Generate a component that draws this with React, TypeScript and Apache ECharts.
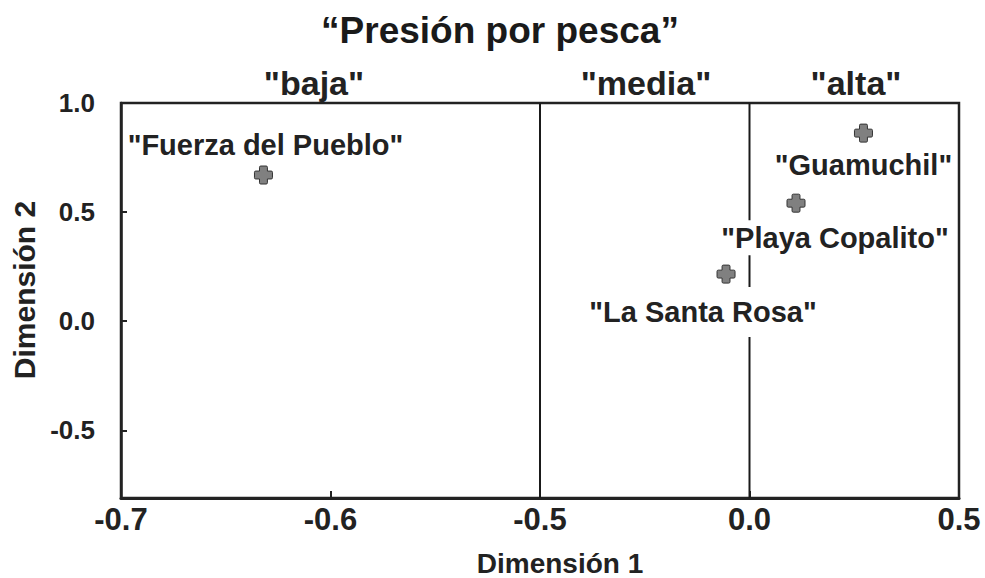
import React, { useEffect, useRef } from "react";
import * as echarts from "echarts";

// ---- data ----
const siteNames = ['"Fuerza del Pueblo"', '"Guamuchil"', '"Playa Copalito"', '"La Santa Rosa"'];
const dim1Values = [-0.632, 0.272, 0.111, -0.056];
const dim2Values = [0.67, 0.862, 0.541, 0.216];
const xTickValues = [-0.7, -0.6, -0.5, 0.0, 0.5];
const yTickValues = [1.0, 0.5, 0.0, -0.5];
const dividerValues = [-0.5, 0.0];
const pressureLabels = ['"baja"', '"media"', '"alta"'];
const titleText = "\u201CPresión por pesca\u201D";
const xAxisName = "Dimensión 1";
const yAxisName = "Dimensión 2";

// label layout (offset from the marker, padding of the white box)
const labelLayout = [
  { offset: [2, -30], padding: [2, 2, 2, 2] },
  { offset: [0, 32], padding: [2, 2, 2, 2] },
  { offset: [39, 34.5], padding: [6, 2, 1, 2] },
  { offset: [-23, 38], padding: [6, 2, 16, 2] },
];
const pressureLabelX = [314, 646, 856];

const Y_MIN = -0.81;
const Y_MAX = 1.0;
const FONT = "'Liberation Sans', Arial, Helvetica, sans-serif";
const INK = "#222";

// the Dimension 1 axis is piecewise linear between its tick labels
function tx(v: number): number {
  for (let i = 0; i < xTickValues.length - 1; i++) {
    const a = xTickValues[i];
    const b = xTickValues[i + 1];
    if (v <= b || i === xTickValues.length - 2) {
      return i + (v - a) / (b - a);
    }
  }
  return 0;
}

const plusPath =
  "path://M3.5,0 H6.5 Q7.2,0 7.2,0.7 V2.8 H9.3 Q10,2.8 10,3.5 V6.5 Q10,7.2 9.3,7.2 H7.2 V9.3 Q7.2,10 6.5,10 H3.5 Q2.8,10 2.8,9.3 V7.2 H0.7 Q0,7.2 0,6.5 V3.5 Q0,2.8 0.7,2.8 H2.8 V0.7 Q2.8,0 3.5,0 Z";

export default function App() {
  const ref = useRef<HTMLDivElement>(null);

  useEffect(() => {
    if (!ref.current) return;
    const chart = echarts.init(ref.current, undefined, { renderer: "svg" });

    const scatterData = siteNames.map((name, i) => ({
      name,
      value: [tx(dim1Values[i]), dim2Values[i]],
      label: {
        offset: labelLayout[i].offset,
        padding: labelLayout[i].padding,
      },
    }));

    const dividerSeries = dividerValues.map((d) => ({
      type: "line",
      z: 2,
      silent: true,
      symbol: "none",
      lineStyle: { color: "#1a1a1a", width: 2 },
      data: [
        [tx(d), Y_MIN],
        [tx(d), Y_MAX],
      ],
    }));

    const option: any = {
      animation: false,
      backgroundColor: "#fff",
      grid: {
        left: 121,
        right: 26,
        top: 103,
        bottom: 80,
        show: true,
        borderColor: "#222",
        borderWidth: 2.5,
        backgroundColor: "transparent",
      },
      xAxis: {
        type: "value",
        min: 0,
        max: xTickValues.length - 1,
        interval: 1,
        axisLine: { show: true, onZero: false, lineStyle: { color: "#222", width: 3 } },
        axisTick: { show: true, inside: true, length: 7, lineStyle: { color: "#222", width: 2 } },
        splitLine: { show: false },
        axisLabel: {
          margin: 6,
          fontSize: 31,
          fontWeight: "bold",
          fontFamily: FONT,
          color: INK,
          formatter: (v: number) => {
            const t = xTickValues[Math.round(v)];
            return t === undefined ? "" : t.toFixed(1);
          },
        },
      },
      yAxis: {
        type: "value",
        min: Y_MIN,
        max: Y_MAX,
        axisLine: { show: true, onZero: false, lineStyle: { color: "#222", width: 2.5 } },
        axisTick: {
          show: true,
          inside: true,
          length: 6,
          customValues: yTickValues,
          lineStyle: { color: "#222", width: 2 },
        },
        splitLine: { show: false },
        axisLabel: {
          margin: 26,
          fontSize: 26,
          fontWeight: "bold",
          fontFamily: FONT,
          color: INK,
          customValues: yTickValues,
          formatter: (v: number) => v.toFixed(1),
        },
      },
      graphic: [
        {
          type: "text",
          x: 500,
          y: 30,
          style: {
            text: titleText,
            fontSize: 37,
            fontWeight: "bold",
            fontFamily: FONT,
            fill: "#1a1a1a",
            textAlign: "center",
            textVerticalAlign: "middle",
          },
        },
        ...pressureLabels.map((t, i) => ({
          type: "text",
          x: pressureLabelX[i],
          y: 83,
          style: {
            text: t,
            fontSize: 34,
            fontWeight: "bold",
            fontFamily: FONT,
            fill: INK,
            textAlign: "center",
            textVerticalAlign: "middle",
          },
        })),
        {
          type: "text",
          x: 560,
          y: 563,
          style: {
            text: xAxisName,
            fontSize: 28,
            fontWeight: "bold",
            fontFamily: FONT,
            fill: INK,
            textAlign: "center",
            textVerticalAlign: "middle",
          },
        },
        {
          type: "text",
          x: 24,
          y: 290,
          rotation: Math.PI / 2,
          style: {
            text: yAxisName,
            fontSize: 30,
            fontWeight: "bold",
            fontFamily: FONT,
            fill: INK,
            textAlign: "center",
            textVerticalAlign: "middle",
          },
        },
      ],
      series: [
        ...dividerSeries,
        {
          type: "scatter",
          z: 5,
          symbol: plusPath,
          symbolSize: 18,
          itemStyle: { color: "#808080", borderColor: "#333", borderWidth: 1, opacity: 1 },
          label: {
            show: true,
            position: "inside",
            formatter: (p: any) => p.name,
            fontSize: 29,
            lineHeight: 28,
            fontWeight: "bold",
            fontFamily: FONT,
            color: INK,
            opacity: 1,
            backgroundColor: "#fff",
          },
          data: scatterData,
        },
      ],
    };

    chart.setOption(option);
    return () => chart.dispose();
  }, []);

  return (
    <div
      ref={ref}
      style={{ position: "fixed", left: 0, top: 0, width: 985, height: 578 }}
    />
  );
}
